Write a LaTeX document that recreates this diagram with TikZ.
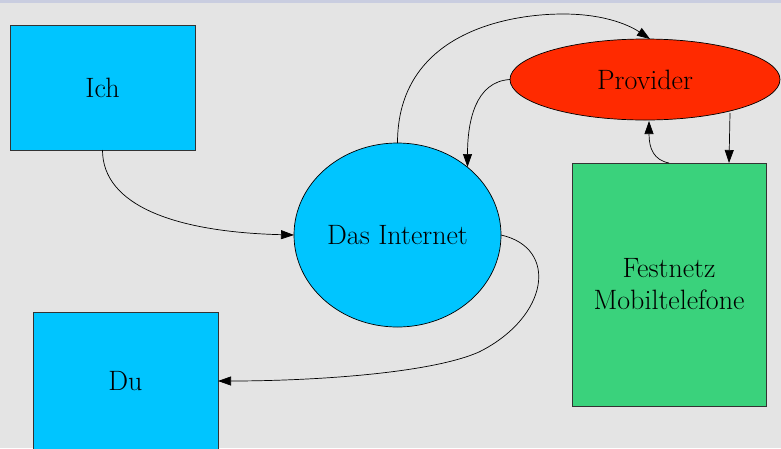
\documentclass[tikz,border=0pt]{standalone}
\usetikzlibrary{shapes.geometric,arrows.meta,calc}
\definecolor{bg}{HTML}{E4E4E4}
\definecolor{topbar}{HTML}{C9CDE0}
\definecolor{skyblue}{HTML}{00C5FF}
\definecolor{provred}{HTML}{FF2A00}
\definecolor{netgreen}{HTML}{3AD27C}
\definecolor{edgegray}{HTML}{333333}
\begin{document}
\begin{tikzpicture}[x=1pt,y=-1pt,
  lbl/.style={font=\fontsize{28}{32}\selectfont, align=center},
  boxnode/.style={draw=edgegray, line width=0.8pt, inner sep=0pt, outer sep=0pt, lbl},
  ovalnode/.style={ellipse, draw=black, line width=0.7pt, inner sep=0pt, outer sep=0pt, lbl},
  conn/.style={draw=black, line width=0.7pt, -{Triangle[length=13pt,width=9pt]}}]
  % canvas
  \useasboundingbox (0,0) rectangle (781,448);
  \clip (0,0) rectangle (781,448);
  \fill[bg] (0,0) rectangle (781,448);
  \fill[topbar] (0,0) rectangle (781,2.5);

  % nodes
  \node[boxnode, fill=skyblue, minimum width=185pt, minimum height=125pt] (ich) at (102.5,87.5) {Ich};
  \node[boxnode, fill=skyblue, minimum width=185pt, minimum height=138pt] (du) at (125.5,381) {Du};
  \node[ovalnode, fill=skyblue, minimum width=207pt, minimum height=184pt] (net) at (397.5,235) {Das Internet};
  \node[ovalnode, fill=provred, minimum width=270pt, minimum height=81pt] (prov) at (645,79.5) {Provider};
  \node[boxnode, fill=netgreen, minimum width=194pt, minimum height=243pt] (fest) at (669,284.5) {Festnetz\\Mobiltelefone};

  % connectors
  \draw[conn] (ich.south) .. controls +(0,55) and +(-120,-3) .. (net.west);
  \draw[conn] (net.north) .. controls +(0,-110) and +(-55,0) .. ($(prov.north)+(-82,-25)$)
              .. controls +(45,0) and +(-18,-12) .. ($(prov.north)+(5,0)$);
  \draw[conn] (prov.west) .. controls +(-35,2) and +(0,-45) .. ($(net.north)+(70,24)$);
  \draw[conn] (fest.north) .. controls +(-15,-3) and +(0,28) .. ($(prov.south)+(4,1)$);
  \draw[conn] ($(prov.south)+(85,-7)$) -- ($(fest.north)+(60,0)$);
  \draw[conn] (net.east) .. controls +(58,13) and +(70,-35) .. ($(net.east)+(-22,117)$)
              .. controls +(-50,22) and +(90,0) .. (du.east);
\end{tikzpicture}
\end{document}
